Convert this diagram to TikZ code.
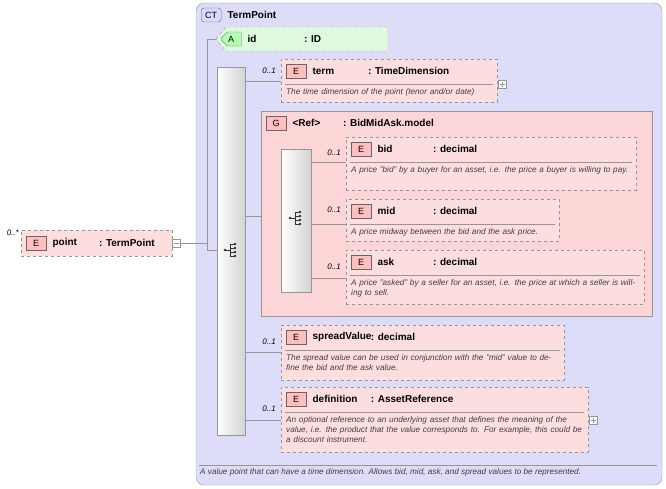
\documentclass[tikz,border=0pt]{standalone}
\usepackage{fontspec}
\setmainfont{Liberation Sans}
\usetikzlibrary{positioning,shapes.misc}
\definecolor{ctfill}{RGB}{221,221,250}
\definecolor{elfill}{RGB}{253,222,222}
\definecolor{grpfill}{RGB}{252,214,214}
\definecolor{atfill}{RGB}{222,250,222}
\definecolor{edge}{RGB}{150,150,150}
\tikzset{
  elem/.style={draw=edge,dashed,fill=elfill,anchor=north west,inner sep=0pt},
  badge/.style={draw=gray!80!black,fill=red!25,font=\fontsize{9}{9}\selectfont,minimum width=20pt,minimum height=14pt,inner sep=0pt},
  head/.style={font=\bfseries\fontsize{10}{11}\selectfont,anchor=west,inner sep=0pt,align=left},
  doc/.style={font=\itshape\fontsize{8.2}{10}\selectfont,text=black!75,anchor=north west,align=left,inner sep=0pt},
  occ/.style={font=\itshape\fontsize{8}{8}\selectfont,anchor=east,inner sep=0pt},
  bar/.style={draw=edge,left color=white,right color=gray!35,anchor=north west,inner sep=0pt},
  conn/.style={draw=edge},
  pm/.style={draw=edge,fill=white,minimum size=8pt,inner sep=0pt}
}
% element box: name, x, y, w, h, line y, title, type, doc
\newcommand{\elbox}[9]{%
  \node[elem,minimum width=#4pt,minimum height=#5pt] (#1) at (#2,#3) {};
  \node[badge,anchor=west] (#1b) at ([xshift=5pt,yshift=-12pt]#1.north west) {E};
  \node[head,right=6pt of #1b,text width=55pt] (#1n) {#7};
  \node[head,right=0pt of #1n] (#1t) {#8};
  \draw[edge] (#2+4,#6) -- (#2+#4-4,#6);
  \node[doc,text width=#4pt-10pt] (#1d) at (#2+5,#6+4) {#9};
}
% sequence icon
\newcommand{\seqicon}[3]{%
  \coordinate (#1) at (#2,#3);
  \draw[black!80] (#2-6,#3) -- (#2-1,#3) (#2-1,#3-6) -- (#2-1,#3+6);
  \foreach \dy in {-6,-2,2,6} \draw[black!80] (#2-1,#3+\dy) -- (#2+3,#3+\dy);
  \fill[black!80] (#2-6,#3) circle (1.3pt);
  \foreach \dy in {-6,-2,2,6} \fill[black!80] (#2+4,#3+\dy) circle (1.3pt);
}
\begin{document}
\begin{tikzpicture}[x=1pt,y=-1pt]
\useasboundingbox (0,0) rectangle (666,488);
% complex type
\draw[draw=edge,fill=ctfill,rounded corners=8pt] (196,3) rectangle (662,485);
\node[badge,fill=blue!15,rounded corners=3pt,anchor=west] (ctb) at (201,15) {CT};
\node[head,right=6pt of ctb] (ctn) {TermPoint};
\draw[edge] (199,465) -- (657,465);
\node[doc] (ctd) at (200,468) {A value point that can have a time dimension. Allows bid, mid, ask, and spread values to be represented.};
% attribute
\draw[draw=edge,dashed,fill=atfill] (216,39) -- (226,27) -- (388,27) -- (388,51) -- (226,51) -- cycle;
\coordinate (idin) at (216,39);
\node[badge,fill=green!30,chamfered rectangle,chamfered rectangle corners={north west,south west},anchor=west] (idb) at (221,39) {A};
\node[head,right=6pt of idb,text width=56pt] (idn) {id};
\node[head,right=0pt of idn] (idt) {: ID};
% point element
\node[elem,minimum width=151pt,minimum height=26pt] (point) at (21,230) {};
\node[badge,anchor=west] (pointb) at (26,243) {E};
\node[head,right=6pt of pointb,text width=46pt] (pointn) {point};
\node[head,right=0pt of pointn] (pointt) {: TermPoint};
\node[occ] (pointo) at (19,233) {0..*};
\node[pm] (pointpm) at (176,243) {};
\draw[edge] (173.5,243) -- (178.5,243);
% sequence bar
\node[bar,minimum width=28pt,minimum height=368pt] (seq) at (217,67) {};
\seqicon{seqi}{231}{250}
\draw[conn] (pointpm) -- (207,243) coordinate (j1);
\draw[conn] (207,39) -- (idin);
\draw[conn] (207,39) -- (207,250) -- (seq.west |- 0,250);
% term
\elbox{term}{281}{59}{216}{43}{84}{term}{: TimeDimension}{The time dimension of the point (tenor and/or date)}
\node[pm] (termpm) at (502,84) {};
\draw[edge] (499.5,84) -- (504.5,84) (502,81.5) -- (502,86.5);
\node[occ] (termo) at (276,71) {0..1};
\draw[conn] (seq.east |- 0,81) -- (term.west |- 0,81);
% group
\draw[draw=edge,fill=grpfill] (261,111) rectangle (652,316);
\node[badge,anchor=west] (grpb) at (266,123) {G};
\node[head,right=6pt of grpb,text width=50pt] (grpn) {<Ref>};
\node[head,right=0pt of grpn] (grpt) {: BidMidAsk.model};
\draw[conn] (seq.east |- 0,216) -- (261,216);
% inner sequence
\node[bar,minimum width=30pt,minimum height=143pt] (seq2) at (281,149) {};
\seqicon{seq2i}{296}{218}
\elbox{bid}{346}{137}{290}{53}{162}{bid}{: decimal}{A price "bid" by a buyer for an asset, i.e. the price a buyer is willing to pay.}
\elbox{mid}{346}{199}{213}{42}{224}{mid}{: decimal}{A price midway between the bid and the ask price.}
\elbox{ask}{346}{250}{298}{54}{275}{ask}{: decimal}{A price "asked" by a seller for an asset, i.e. the price at which a seller is willing to sell.}
\node[occ] (bido) at (341,153) {0..1};
\node[occ] (mido) at (341,210) {0..1};
\node[occ] (asko) at (341,267) {0..1};
\draw[conn] (seq2.east |- 0,162) -- (bid.west |- 0,162);
\draw[conn] (seq2.east |- 0,224) -- (mid.west |- 0,224);
\draw[conn] (seq2.east |- 0,278) -- (ask.west |- 0,278);
% spread, definition
\elbox{spread}{281}{325}{283}{55}{350}{spreadValue}{\ : decimal}{The spread value can be used in conjunction with the "mid" value to define the bid and the ask value.}
\elbox{defn}{281}{387}{307}{65}{412}{definition}{\ : AssetReference}{An optional reference to an underlying asset that defines the meaning of the value, i.e. the product that the value corresponds to. For example, this could be a discount instrument.}
\node[pm] (defnpm) at (593,420) {};
\draw[edge] (590.5,420) -- (595.5,420) (593,417.5) -- (593,422.5);
\node[occ] (spreado) at (276,342) {0..1};
\node[occ] (defno) at (276,409) {0..1};
\draw[conn] (seq.east |- 0,352) -- (spread.west |- 0,352);
\draw[conn] (seq.east |- 0,420) -- (defn.west |- 0,420);
\end{tikzpicture}
\end{document}
